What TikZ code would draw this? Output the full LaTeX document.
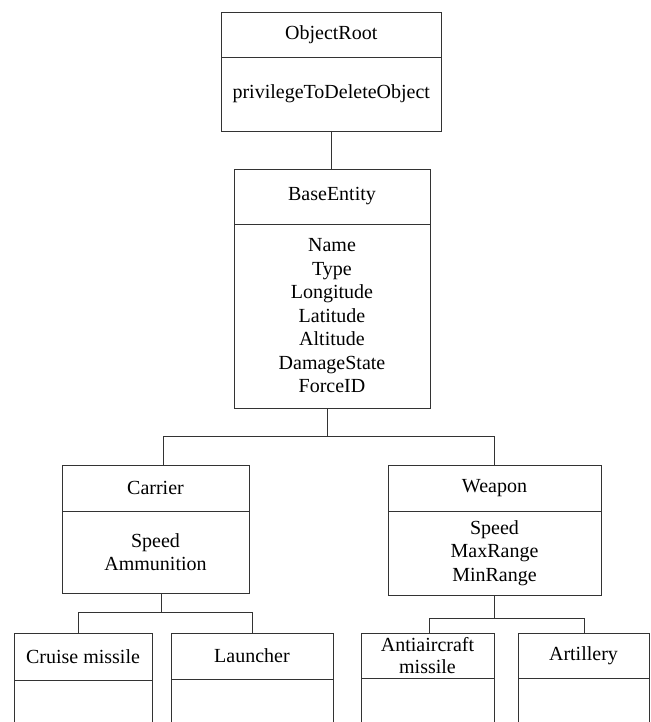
\documentclass[tikz,border=0pt]{standalone}
\usepackage{fontspec}
\setmainfont{Liberation Serif}
\begin{document}
\begin{tikzpicture}[x=1pt,y=-1pt,
  box/.style={draw=black!80, line width=0.9pt, rectangle, inner sep=0pt, outer sep=0pt, align=center, anchor=north west, font=\rmfamily\fontsize{20}{23.5}\selectfont},
  conn/.style={draw=black!80, line width=0.9pt}]
\useasboundingbox (0,0) rectangle (650,722);
\clip (0,0) rectangle (650,722);
% ObjectRoot
\node[box, minimum width=220.5pt, minimum height=45pt] (rootH) at (221,12) {\raisebox{-1pt}{ObjectRoot}};
\node[box, minimum width=220.5pt, minimum height=74pt] (rootB) at (221,57) {\raisebox{-2pt}{privilegeToDeleteObject}};
% BaseEntity
\node[box, minimum width=196pt, minimum height=55pt] (baseH) at (234,169) {BaseEntity};
\node[box, minimum width=196pt, minimum height=184pt] (baseB) at (234,224) {Name\\Type\\Longitude\\Latitude\\Altitude\\DamageState\\ForceID};
% Carrier
\node[box, minimum width=187pt, minimum height=46pt] (carH) at (62,465) {Carrier};
\node[box, minimum width=187pt, minimum height=82pt] (carB) at (62,511) {Speed\\Ammunition};
% Weapon
\node[box, minimum width=213pt, minimum height=46pt] (weaH) at (388,465) {Weapon};
\node[box, minimum width=213pt, minimum height=84pt] (weaB) at (388,511) {Speed\\MaxRange\\MinRange};
% Leaves
\node[box, minimum width=138pt, minimum height=47pt] (cruH) at (14,633) {Cruise missile};
\node[box, minimum width=138pt, minimum height=60pt] (cruB) at (14,680) {};
\node[box, minimum width=162pt, minimum height=46pt] (lauH) at (171,633) {Launcher};
\node[box, minimum width=162pt, minimum height=60pt] (lauB) at (171,679) {};
\node[box, minimum width=133pt, minimum height=45pt] (antH) at (361,633) {Antiaircraft\\[-1pt]missile};
\node[box, minimum width=133pt, minimum height=60pt] (antB) at (361,678) {};
\node[box, minimum width=131pt, minimum height=45pt] (artH) at (518,633) {Artillery};
\node[box, minimum width=131pt, minimum height=60pt] (artB) at (518,678) {};
% connectors
\draw[conn] (rootB.south) -- (baseH.north -| rootB.south);
\coordinate (busL) at (163,436);
\coordinate (busR) at (494.5,436);
\coordinate (busM) at (327.5,436);
\draw[conn] (baseB.south -| busM) -- (busM);
\draw[conn] (carH.north -| busL) -- (busL) -- (busR) -- (weaH.north -| busR);
\coordinate (cbM) at (161,612.7);
\coordinate (cbL) at (78,612.7);
\coordinate (cbR) at (252,612.7);
\draw[conn] (carB.south -| cbM) -- (cbM);
\draw[conn] (cruH.north -| cbL) -- (cbL) -- (cbR) -- (lauH.north -| cbR);
\coordinate (wbM) at (494.5,618);
\coordinate (wbL) at (429,618);
\coordinate (wbR) at (584,618);
\draw[conn] (weaB.south -| wbM) -- (wbM);
\draw[conn] (antH.north -| wbL) -- (wbL) -- (wbR) -- (artH.north -| wbR);
\end{tikzpicture}
\end{document}
